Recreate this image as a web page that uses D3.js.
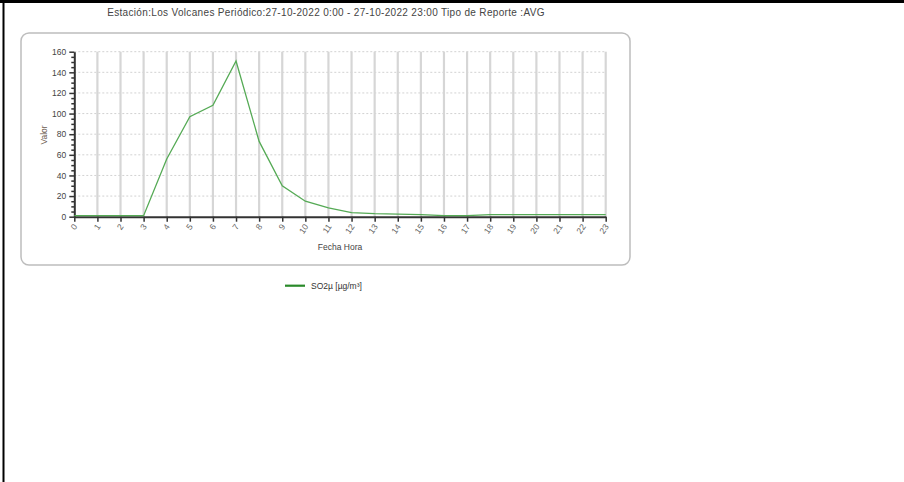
<!DOCTYPE html>
<html>
<head>
<meta charset="utf-8">
<script src="https://cdn.jsdelivr.net/npm/d3@7"></script>
<style>
  html, body { margin: 0; padding: 0; background: #fff; }
  svg { display: block; font-family: "Liberation Sans", Arial, sans-serif; }
</style>
</head>
<body>
<svg id="chart" width="904" height="482"></svg>
<script>
// ---- data ----
const hours = [0,1,2,3,4,5,6,7,8,9,10,11,12,13,14,15,16,17,18,19,20,21,22,23];
const so2Values = [1,1,1,1,56,97,108,151,73,30,15,8.5,4,3,2.5,2,1,1,2,2,2,2,2,2];
const yTicks = [0,20,40,60,80,100,120,140,160];
const titleText = "Estación:Los Volcanes Periódico:27-10-2022 0:00 - 27-10-2022 23:00 Tipo de Reporte :AVG";
const seriesName = "SO2µ [µg/m³]";
const xTitle = "Fecha Hora";
const yTitle = "Valor";

const svg = d3.select("#chart");

// page frame lines
svg.append("line").attr("x1", 0).attr("x2", 904).attr("y1", 1.5).attr("y2", 1.5)
  .attr("stroke", "#000").attr("stroke-width", 3);
svg.append("line").attr("x1", 3.5).attr("x2", 3.5).attr("y1", 0).attr("y2", 482)
  .attr("stroke", "#000").attr("stroke-width", 2);

// title
svg.append("text").attr("x", 326).attr("y", 16).attr("text-anchor", "middle")
  .attr("font-size", 10).attr("letter-spacing", 0.33).attr("fill", "#444").text(titleText);

// chart box
svg.append("rect").attr("x", 21).attr("y", 33).attr("width", 609).attr("height", 232)
  .attr("rx", 8).attr("ry", 8).attr("fill", "#fff")
  .attr("stroke", "#bdbdbd").attr("stroke-width", 1.5);

const x = d3.scaleLinear().domain([0, 23]).range([74.3, 605.7]);
const y = d3.scaleLinear().domain([0, 160]).range([216.7, 51.7]);

// horizontal dashed grid
svg.append("g").selectAll("line").data(yTicks.filter(d => d > 0)).join("line")
  .attr("x1", x(0)).attr("x2", x(23))
  .attr("y1", d => y(d)).attr("y2", d => y(d))
  .attr("stroke", "#d2d2d2").attr("stroke-width", 1).attr("stroke-dasharray", "2,2");

// vertical grid
svg.append("g").selectAll("line").data(hours.filter(d => d > 0)).join("line")
  .attr("x1", d => x(d)).attr("x2", d => x(d))
  .attr("y1", y(160)).attr("y2", y(0))
  .attr("stroke", "#d6d6d6").attr("stroke-width", 2.2);

// y axis minor ticks
const minor = d3.range(0, 161, 5).filter(v => v % 20 !== 0);
svg.append("g").attr("transform", `translate(${x(0)},0)`)
  .call(d3.axisLeft(y).tickValues(minor).tickSize(3).tickFormat(""))
  .call(g => g.select(".domain").remove())
  .call(g => g.selectAll("line").attr("stroke", "#333").attr("stroke-width", 1.5));

// y axis
svg.append("g").attr("transform", `translate(${x(0)},0)`)
  .call(d3.axisLeft(y).tickValues(yTicks).tickSize(5).tickSizeOuter(0).tickPadding(3))
  .call(g => g.select(".domain").attr("stroke", "#333").attr("stroke-width", 2))
  .call(g => g.selectAll(".tick line").attr("stroke", "#333").attr("stroke-width", 1.5))
  .call(g => g.selectAll("text").attr("fill", "#444").attr("font-size", 8.5)
    .attr("font-family", "Liberation Sans, Arial, sans-serif"));

// x axis
svg.append("g").attr("transform", `translate(0,${y(0)})`)
  .call(d3.axisBottom(x).tickValues(hours).tickSize(5).tickSizeOuter(0).tickFormat(d3.format("d")))
  .call(g => g.select(".domain").attr("stroke", "#333").attr("stroke-width", 2))
  .call(g => g.selectAll(".tick line").attr("stroke", "#333").attr("stroke-width", 1.5))
  .call(g => g.selectAll("text").attr("fill", "#666").attr("font-size", 8.5)
    .attr("font-family", "Liberation Sans, Arial, sans-serif")
    .attr("text-anchor", "end").attr("dy", null).attr("y", 0)
    .attr("transform", "translate(3,10) rotate(-55)"));

// series line
svg.append("path").datum(hours)
  .attr("fill", "none").attr("stroke", "#55aa55").attr("stroke-width", 1.3)
  .attr("d", d3.line().x(d => x(d)).y((d, i) => y(so2Values[i])));

// axis titles
svg.append("text").attr("transform", "translate(47,135) rotate(-90)")
  .attr("text-anchor", "middle").attr("font-size", 8.5).attr("fill", "#6b5a4e").text(yTitle);
svg.append("text").attr("x", 340).attr("y", 250).attr("text-anchor", "middle")
  .attr("font-size", 8.5).attr("fill", "#444").text(xTitle);

// legend
svg.append("line").attr("x1", 285).attr("x2", 305).attr("y1", 285.7).attr("y2", 285.7)
  .attr("stroke", "#2a8a2a").attr("stroke-width", 2.2);
svg.append("text").attr("x", 311).attr("y", 288.7).attr("font-size", 8.5)
  .attr("fill", "#333").text(seriesName);
</script>
</body>
</html>
